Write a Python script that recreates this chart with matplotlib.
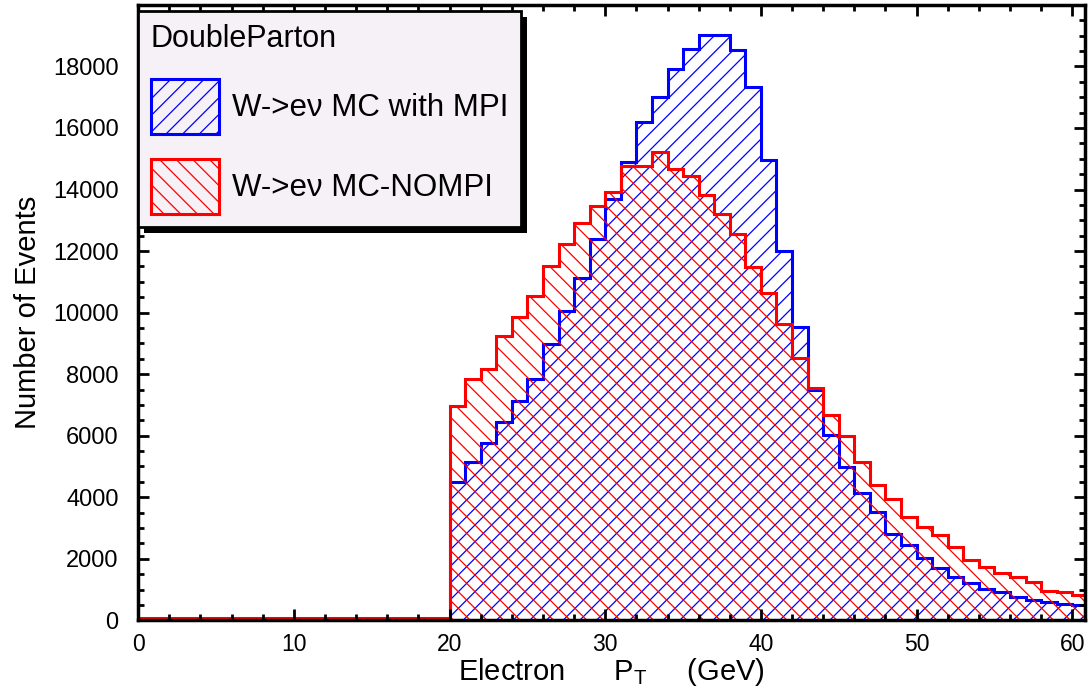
import matplotlib
matplotlib.use("Agg")
import matplotlib.pyplot as plt
import numpy as np
from matplotlib.patches import Rectangle
from matplotlib.transforms import IdentityTransform
from matplotlib.ticker import MultipleLocator

plt.rcParams['font.family'] = ['Liberation Sans', 'DejaVu Sans']
plt.rcParams['hatch.linewidth'] = 0.9

# 1 GeV bins from 0 to 61
bin_edges = np.arange(0, 62)

# W->ev MC with MPI (blue)
mpi_counts = [0] * 20 + [
    4510, 5130, 5760, 6430, 7120, 7830, 8970, 10050, 11120, 12400,
    13700, 14890, 16190, 17010, 17930, 18580, 19020, 19020, 18530, 17340,
    14950, 12010, 9540, 7480, 6030, 4980, 4150, 3530, 2820, 2440,
    2040, 1710, 1420, 1220, 1030, 920, 760, 670, 600, 540,
    490]

# W->ev MC-NOMPI (red)
nompi_counts = [60] * 20 + [
    6950, 7850, 8180, 9230, 9850, 10530, 11510, 12230, 12910, 13450,
    13930, 14780, 14780, 15220, 14670, 14450, 13810, 13200, 12550, 11490,
    10650, 9620, 8540, 7550, 6660, 5990, 5140, 4400, 3950, 3350,
    3040, 2770, 2380, 1950, 1740, 1540, 1410, 1250, 955, 920,
    815]

labels = ['W->e\u03bd MC with MPI', 'W->e\u03bd MC-NOMPI']

fig = plt.figure(figsize=(10.88, 6.97), dpi=100)
ax = fig.add_axes([0.127, 0.110, 0.870, 0.883])

ax.stairs(mpi_counts, bin_edges, fill=True, facecolor='none', edgecolor='blue',
          hatch='//', linewidth=2.2, label=labels[0])
ax.stairs(nompi_counts, bin_edges, fill=True, facecolor='none', edgecolor='red',
          hatch='\\\\', linewidth=2.2, label=labels[1])

ax.set_xlim(0, 60.8)
ax.set_ylim(0, 20000)
ax.xaxis.set_major_locator(MultipleLocator(10))
ax.xaxis.set_minor_locator(MultipleLocator(2))
ax.yaxis.set_minor_locator(MultipleLocator(500))
ax.set_yticks(np.arange(0, 20000, 2000))

ax.tick_params(which='both', direction='in', top=True, right=True, width=2)
ax.tick_params(which='major', length=8)
ax.tick_params(which='minor', length=4)
ax.tick_params(axis='y', labelsize=17, pad=14)
ax.tick_params(axis='x', labelsize=16.5, pad=9)
for s in ax.spines.values():
    s.set_linewidth(2.5)

ax.set_xlabel('Electron      P$_\\mathregular{T}$     (GeV)', fontsize=21, labelpad=0)
ax.set_ylabel('Number of Events', fontsize=21, labelpad=8)

leg = ax.legend(loc='upper left', bbox_to_anchor=(0, 0.99), borderaxespad=0,
                title='DoubleParton', title_fontsize=22, fontsize=22.5,
                alignment='left', fancybox=False, edgecolor='black',
                facecolor='#f6f1f6', framealpha=1, handlelength=2.2,
                handleheight=2.35, handletextpad=0.4, labelspacing=0.8,
                borderpad=0.4)
leg.get_frame().set_linewidth(2)

# black drop shadow under the legend box
fig.canvas.draw()
bb = leg.get_window_extent()
shadow = Rectangle((bb.x0 + 6, bb.y0 - 6), bb.width, bb.height,
                   transform=IdentityTransform(), facecolor='black',
                   edgecolor='none', zorder=4.9)
ax.add_artist(shadow)

fig.savefig('out.png', dpi=100)
